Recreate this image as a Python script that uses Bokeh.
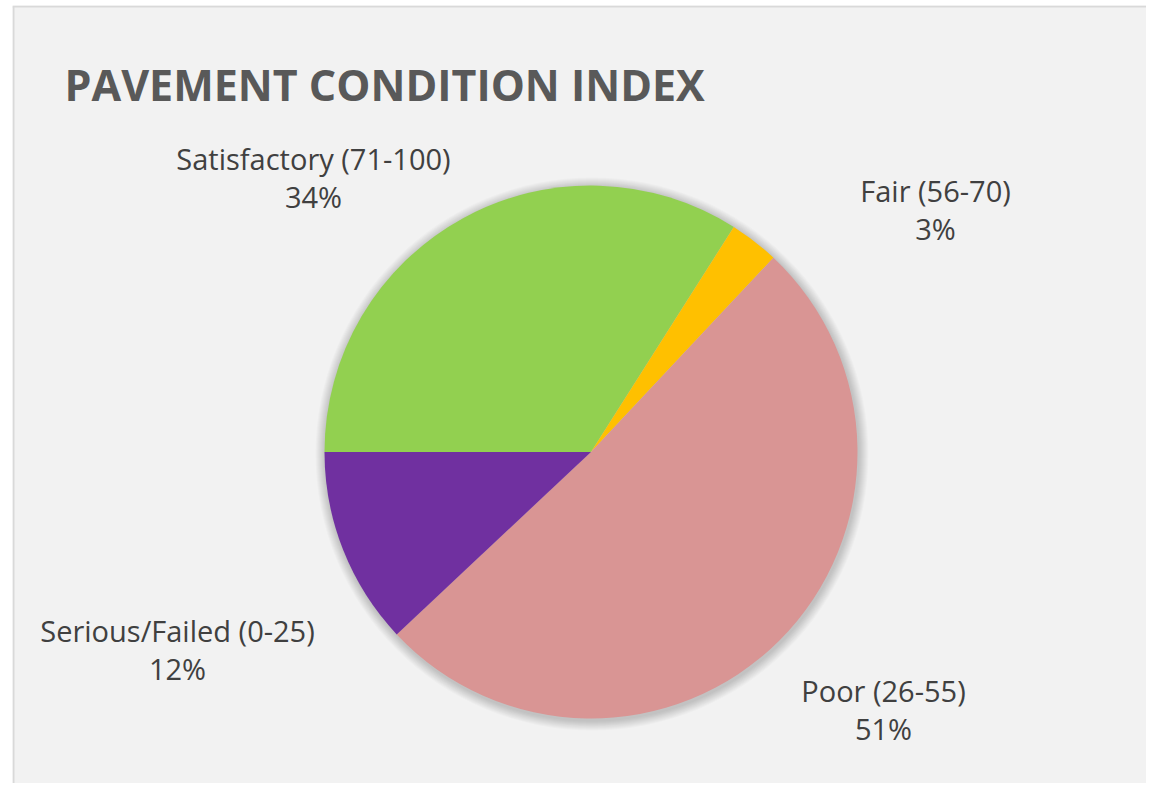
import math
from bokeh.plotting import figure
from bokeh.models import Range1d, ColumnDataSource
from bokeh.core.properties import value
from bokeh.embed import file_html
from bokeh.resources import INLINE

# ---- data ----
categories = ["Satisfactory (71-100)", "Fair (56-70)", "Poor (26-55)", "Serious/Failed (0-25)"]
percents = [34, 3, 51, 12]
colors = ["#92D050", "#FFC000", "#D99594", "#7030A0"]
title_text = "PAVEMENT CONDITION INDEX"

# ---- layout ----
W, H = 1146, 783
ML, MT = 12, 5
cx, cy, r = 590.5, -451.5, 266.5
label_pos = [(313, -158), (935, -190), (883, -690), (177, -630)]

p = figure(width=W, height=H, output_backend="svg", toolbar_location=None,
           x_range=Range1d(ML, W), y_range=Range1d(-H, -MT),
           min_border_left=ML, min_border_right=0, min_border_top=MT, min_border_bottom=0)
p.axis.visible = False
p.grid.visible = False
p.background_fill_color = "#F2F2F2"
p.border_fill_color = "#FFFFFF"
p.outline_line_color = None

# chart-area border (left and top edges only)
p.segment(x0=[ML + 1, ML], y0=[-H, -MT - 1], x1=[ML + 1, W], y1=[-MT - 1, -MT - 1],
          line_color="#D9D9D9", line_width=2)

# soft shadow
for k in range(10, 0, -1):
    p.circle(x=[cx + 1], y=[cy - 2], radius=r + k, fill_color="#000000",
             fill_alpha=0.018, line_color=None)

total = sum(percents)
starts, ends = [], []
acc = 0
for v in percents:
    starts.append(math.pi - 2 * math.pi * acc / total)
    acc += v
    ends.append(math.pi - 2 * math.pi * acc / total)

src = ColumnDataSource(dict(start=starts, end=ends, color=colors))
p.wedge(x=cx, y=cy, radius=r, start_angle="start", end_angle="end",
        direction="clock", fill_color="color", line_color=None, source=src)

lsrc = ColumnDataSource(dict(
    x=[lp[0] for lp in label_pos],
    y1=[lp[1] for lp in label_pos],
    y2=[lp[1] - 38 for lp in label_pos],
    name=categories,
    pct=[f"{v}%" for v in percents],
))
p.text(x="x", y="y1", text="name", source=lsrc, text_align="center",
       text_baseline="middle", text_font=value("Open Sans"),
       text_font_size="29px", text_color="#404040")
p.text(x="x", y="y2", text="pct", source=lsrc, text_align="center",
       text_baseline="middle", text_font=value("Open Sans"),
       text_font_size="29px", text_color="#404040")

p.text(x=[64], y=[-84], text=[title_text], text_align="left", text_baseline="middle",
       text_font=value("Open Sans"), text_font_style="bold",
       text_font_size="43px", text_color="#595959")

open("out.html", "w").write(file_html(p, INLINE))
